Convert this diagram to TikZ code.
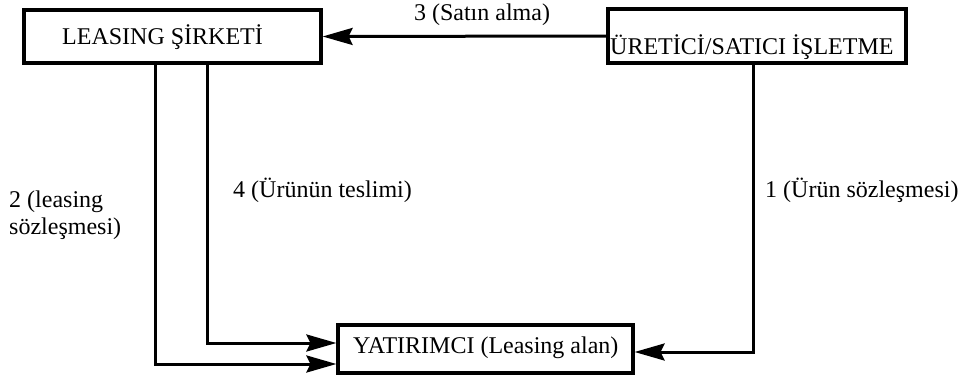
\documentclass[tikz,border=0pt]{standalone}
\usepackage{fontspec}
\setmainfont{Liberation Serif}
\usetikzlibrary{arrows.meta}
\begin{document}
\begin{tikzpicture}[x=1pt,y=-1pt,
  box/.style={draw, line width=3.2pt, inner sep=0pt, rectangle},
  txt/.style={inner sep=0pt, font=\fontsize{24}{26}\selectfont},
  conn/.style={line width=3pt, -{Stealth[length=30pt,width=17pt,inset=4pt]}}]
\useasboundingbox (0,0) rectangle (975,383);

% boxes
\node[box, minimum width=297pt, minimum height=53pt] (leasing) at (172.5,36.5) {};
\node[box, minimum width=298pt, minimum height=54pt] (uretici) at (757,36) {};
\node[box, minimum width=295pt, minimum height=48pt] (yatirimci) at (485.5,349) {};

% box texts
\node[txt, anchor=base west] (leasingtxt) at (62,44) {LEASING ŞİRKETİ};
\node[txt, anchor=base west] (ureticitxt) at (610,54) {ÜRETİCİ/SATICI İŞLETME};
\node[txt, anchor=base west] (yatirimcitxt) at (353,353) {YATIRIMCI (Leasing alan)};

% helper coordinates
\coordinate (p2) at (155,364);
\coordinate (p4) at (207,343);
\coordinate (p1) at (753,352);

% connectors
\draw[conn] (uretici.west) -- (leasing.east);
\draw[conn] (leasing.south -| p2) |- (yatirimci.west |- p2);
\draw[conn] (leasing.south -| p4) |- (yatirimci.west |- p4);
\draw[conn] (uretici.south -| p1) |- (yatirimci.east |- p1);

% labels
\node[txt, anchor=base] (lab3) at (482,20) {3 (Satın alma)};
\node[txt, anchor=base west] (lab2a) at (9,207) {2 (leasing};
\node[txt, anchor=base west] (lab2b) at (9,234) {sözleşmesi)};
\node[txt, anchor=base west] (lab4) at (233,197) {4 (Ürünün teslimi)};
\node[txt, anchor=base west] (lab1) at (765,197) {1 (Ürün sözleşmesi)};
\end{tikzpicture}
\end{document}
